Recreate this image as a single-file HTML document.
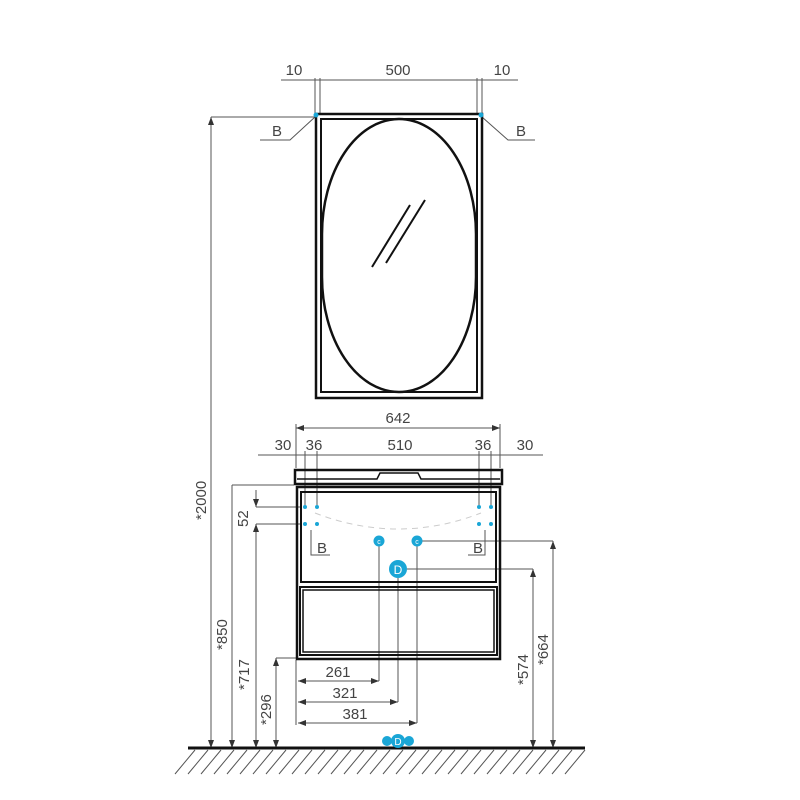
<!DOCTYPE html>
<html><head><style>body{margin:0;background:#fff}svg{display:block}text{font-family:"Liberation Sans",sans-serif;font-size:15px;fill:#444}</style></head><body>
<svg width="800" height="800" viewBox="0 0 800 800" xmlns="http://www.w3.org/2000/svg">
<defs><marker id="a" markerWidth="8" markerHeight="6" refX="8" refY="3" orient="auto-start-reverse"><path d="M0,0L8,3L0,6z" fill="#333"/></marker></defs>
<g stroke="#555" stroke-width="1" fill="none">
<line x1="281" y1="80" x2="518" y2="80"/>
<line x1="315" y1="78" x2="315" y2="113"/><line x1="320" y1="78" x2="320" y2="113"/>
<line x1="477" y1="78" x2="477" y2="113"/><line x1="482" y1="78" x2="482" y2="113"/>
<polyline points="260,140 290,140 315,117"/><polyline points="535,140 508,140 482,117"/>
<line x1="211" y1="117" x2="315" y2="117"/>
<line x1="211" y1="117" x2="211" y2="748" marker-start="url(#a)" marker-end="url(#a)"/>
<line x1="296" y1="428" x2="500" y2="428" marker-start="url(#a)" marker-end="url(#a)"/>
<line x1="296" y1="424" x2="296" y2="468"/><line x1="500" y1="424" x2="500" y2="468"/>
<line x1="258" y1="455" x2="543" y2="455"/>
<line x1="305" y1="451" x2="305" y2="505"/><line x1="317" y1="451" x2="317" y2="505"/>
<line x1="479" y1="451" x2="479" y2="505"/><line x1="491" y1="451" x2="491" y2="505"/>
<line x1="232" y1="485" x2="294" y2="485"/>
<line x1="232" y1="485" x2="232" y2="748" marker-end="url(#a)"/>
<line x1="256" y1="507" x2="302" y2="507"/><line x1="256" y1="524" x2="302" y2="524"/>
<line x1="256" y1="490" x2="256" y2="507" marker-end="url(#a)"/>
<line x1="256" y1="524" x2="256" y2="748" marker-start="url(#a)" marker-end="url(#a)"/>
<line x1="276" y1="658" x2="296" y2="658"/>
<line x1="276" y1="658" x2="276" y2="748" marker-start="url(#a)" marker-end="url(#a)"/>
<polyline points="311,530 311,555 330,555"/><polyline points="485,530 485,555 468,555"/>
<line x1="379" y1="546" x2="379" y2="681"/>
<line x1="398" y1="578" x2="398" y2="702"/>
<line x1="417" y1="546" x2="417" y2="723"/>
<line x1="422" y1="541" x2="553" y2="541"/>
<line x1="407" y1="569" x2="533" y2="569"/>
<line x1="553" y1="541" x2="553" y2="748" marker-start="url(#a)" marker-end="url(#a)"/>
<line x1="533" y1="569" x2="533" y2="748" marker-start="url(#a)" marker-end="url(#a)"/>
<line x1="296" y1="660" x2="296" y2="725"/>
<line x1="298" y1="681" x2="379" y2="681" marker-start="url(#a)" marker-end="url(#a)"/>
<line x1="298" y1="702" x2="398" y2="702" marker-start="url(#a)" marker-end="url(#a)"/>
<line x1="298" y1="723" x2="417" y2="723" marker-start="url(#a)" marker-end="url(#a)"/>
<path d="M195,750l-20,24M208,750l-20,24M221,750l-20,24M234,750l-20,24M247,750l-20,24M260,750l-20,24M273,750l-20,24M286,750l-20,24M299,750l-20,24M312,750l-20,24M325,750l-20,24M338,750l-20,24M351,750l-20,24M364,750l-20,24M377,750l-20,24M390,750l-20,24M403,750l-20,24M416,750l-20,24M429,750l-20,24M442,750l-20,24M455,750l-20,24M468,750l-20,24M481,750l-20,24M494,750l-20,24M507,750l-20,24M520,750l-20,24M533,750l-20,24M546,750l-20,24M559,750l-20,24M572,750l-20,24M585,750l-20,24"/>
</g>
<g stroke="#111" fill="none">
<rect x="316" y="114" width="166" height="284" stroke-width="2.5"/>
<rect x="321" y="119" width="156" height="273" stroke-width="2"/>
<rect x="322" y="119" width="154" height="273" rx="77" ry="115" stroke-width="2.5"/>
<line x1="372" y1="267" x2="410" y2="205" stroke-width="2"/>
<line x1="386" y1="263" x2="425" y2="200" stroke-width="2"/>
<path d="M295,470h207v14h-207z" stroke-width="2.5"/>
<path d="M297,479h80l3,-6h38l3,6h79" stroke-width="1.5"/>
<rect x="297" y="487" width="203" height="172" stroke-width="2.5"/>
<rect x="301" y="492" width="195" height="90" stroke-width="2"/>
<rect x="300" y="587" width="197" height="68" stroke-width="2"/>
<rect x="303" y="590" width="191" height="62" stroke-width="1.5"/>
<line x1="188" y1="748" x2="585" y2="748" stroke-width="3"/>
</g>
<path d="M315,513 Q398,545 481,513" stroke="#ccc" stroke-dasharray="6,5" fill="none"/>
<g fill="#1aa6d6">
<circle cx="316" cy="115" r="2.5"/><circle cx="481" cy="115" r="2.5"/>
<circle cx="305" cy="507" r="2"/><circle cx="317" cy="507" r="2"/><circle cx="305" cy="524" r="2"/><circle cx="317" cy="524" r="2"/>
<circle cx="479" cy="507" r="2"/><circle cx="491" cy="507" r="2"/><circle cx="479" cy="524" r="2"/><circle cx="491" cy="524" r="2"/>
<circle cx="379" cy="541" r="5.5"/><circle cx="417" cy="541" r="5.5"/><circle cx="398" cy="569" r="9"/>
<circle cx="387" cy="741" r="5"/><circle cx="409" cy="741" r="5"/><circle cx="398" cy="741" r="7"/>
</g>
<g text-anchor="middle"><text x="379" y="544" style="font-size:7px;fill:#fff">c</text><text x="417" y="544" style="font-size:7px;fill:#fff">c</text><text x="398" y="574" style="font-size:12px;fill:#fff">D</text><text x="398" y="745" style="font-size:10px;fill:#fff">D</text></g>
<g text-anchor="middle">
<text x="294" y="75">10</text><text x="398" y="75">500</text><text x="502" y="75">10</text>
<text x="277" y="136">B</text><text x="521" y="136">B</text>
<text x="398" y="423">642</text>
<text x="283" y="450">30</text><text x="314" y="450">36</text><text x="400" y="450">510</text><text x="483" y="450">36</text><text x="525" y="450">30</text>
<text x="322" y="553">B</text><text x="478" y="553">B</text>
<text x="338" y="677">261</text><text x="345" y="698">321</text><text x="355" y="719">381</text>
</g>
<g>
<text transform="translate(206,520) rotate(-90)">*2000</text>
<text transform="translate(227,650) rotate(-90)">*850</text>
<text transform="translate(249,690) rotate(-90)">*717</text>
<text transform="translate(248,527) rotate(-90)">52</text>
<text transform="translate(271,725) rotate(-90)">*296</text>
<text transform="translate(528,685) rotate(-90)">*574</text>
<text transform="translate(548,665) rotate(-90)">*664</text>
</g>
</svg>
</body></html>
